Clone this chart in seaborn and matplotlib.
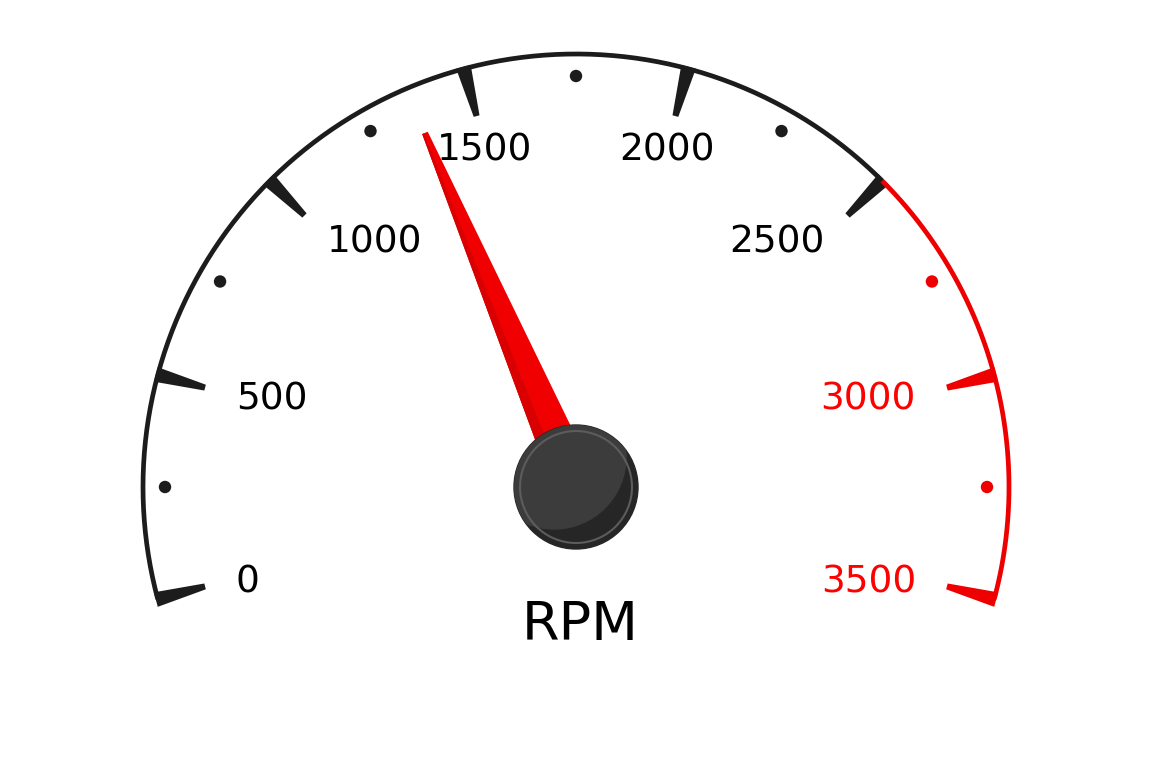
import numpy as np
import pandas as pd
import matplotlib
matplotlib.use("Agg")
import matplotlib.pyplot as plt
from matplotlib.patches import Polygon, Circle
import seaborn as sns

# gauge data
major_values = [0, 500, 1000, 1500, 2000, 2500, 3000, 3500]
major_labels = ["0", "500", "1000", "1500", "2000", "2500", "3000", "3500"]
minor_values = [250, 750, 1250, 1750, 2250, 2750, 3250]
redline = 2500
max_value = 3500
needle_value = 1365
unit_label = "RPM"

# geometry (pixels, y down)
cx, cy = 576, 487
r_arc = 433
r_tick_in = 384
r_dot = 411
r_lab = 352
start_deg, sweep_deg = 195, 210
black = "#1c1c1c"
red = "#ee0000"


def angle(v):
    return np.radians(start_deg - v / max_value * sweep_deg)


def pt(r, a):
    return cx + r * np.cos(a), cy - r * np.sin(a)


sns.set_theme(style="white")
plt.rcParams["font.family"] = ["DejaVu Sans"]

fig = plt.figure(figsize=(11.63, 7.67), dpi=100)
ax = fig.add_axes([0, 0, 1, 1])
ax.set_xlim(0, 1163)
ax.set_ylim(767, 0)
ax.set_aspect("equal")
ax.axis("off")

# arc, black then red zone
a_black = np.linspace(angle(0), angle(redline), 300)
a_red = np.linspace(angle(redline), angle(max_value), 150)
ax.plot(*pt(r_arc, a_black), color=black, lw=3.4, solid_capstyle="butt")
ax.plot(*pt(r_arc, a_red), color=red, lw=3.4, solid_capstyle="butt")

# major ticks as tapered wedges
for v, lab in zip(major_values, major_labels):
    a = angle(v)
    col = red if v > redline else black
    t = np.array([np.sin(a), np.cos(a)])
    o = np.array(pt(r_arc + 2, a))
    i = np.array(pt(r_tick_in, a))
    poly = [o + t * 7.5, i + t * 3, i - t * 3, o - t * 7.5]
    ax.add_patch(Polygon(poly, closed=True, color=col, lw=0))

    x, y = pt(r_lab, a)
    c = np.cos(a)
    ha = "left" if c < -0.5 else ("right" if c > 0.5 else "center")
    ax.text(x, y + 4, lab, ha=ha, va="center", fontsize=27,
            color="#ff0000" if v > redline else "black")

# minor dots
dots = pd.DataFrame({"value": minor_values})
dots["x"] = [pt(r_dot, angle(v))[0] for v in minor_values]
dots["y"] = [pt(r_dot, angle(v))[1] for v in minor_values]
dots["zone"] = np.where(dots["value"] > redline, "red", "normal")
sns.scatterplot(data=dots, x="x", y="y", hue="zone",
                palette={"normal": black, "red": red},
                s=80, linewidth=0, legend=False, ax=ax, zorder=3)
ax.set_xlabel("")
ax.set_ylabel("")

# needle
a = angle(needle_value)
t = np.array([np.sin(a), np.cos(a)])
base = np.array(pt(0, a))
tip = np.array(pt(385, a))
ax.add_patch(Polygon([base + t * 22, tip + t * 3, tip - t * 3, base - t * 22],
                     closed=True, color="#f00000", lw=0, zorder=4))
ax.add_patch(Polygon([base - t * 10, tip - t * 1.2, tip - t * 3, base - t * 22],
                     closed=True, color="#d80000", lw=0, zorder=4))

# hub
hub = Circle((cx, cy), 62, color="#262626", zorder=5)
ax.add_patch(hub)
shine = Circle((cx - 22, cy - 30), 72, color="#3c3c3c", zorder=5.1)
ax.add_patch(shine)
shine.set_clip_path(hub)
ax.add_patch(Circle((cx, cy), 56, fill=False, ec="#5c5c5c", lw=1.5, zorder=5.2))

ax.text(cx + 4, 625, unit_label, ha="center", va="center", fontsize=39, color="black")

fig.savefig("out.png", dpi=100, facecolor="white")
